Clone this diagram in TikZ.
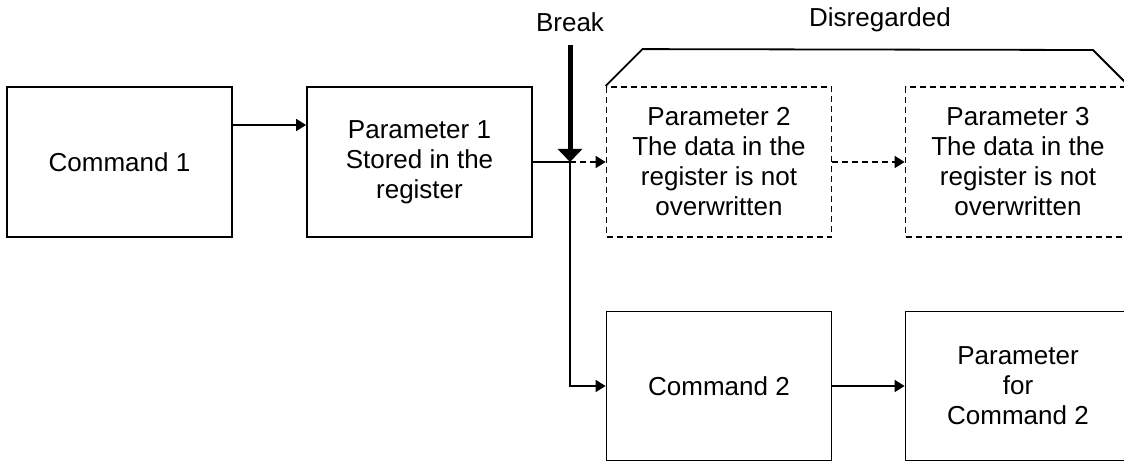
\documentclass[tikz,border=0pt]{standalone}
\usepackage{fontspec}
\setmainfont{Liberation Sans}
\usetikzlibrary{arrows.meta}
\tikzset{
  box/.style={draw, line width=1.8pt, minimum width=225pt, minimum height=150pt, align=center, inner sep=0pt, font=\fontsize{26}{30}\selectfont},
  dbox/.style={box, dash pattern=on 6pt off 4pt},
  arr/.style={line width=1.8pt, -{Triangle[length=10pt,width=12pt]}},
  darr/.style={arr, dash pattern=on 6pt off 4pt},
  lbl/.style={font=\fontsize{26}{30}\selectfont, inner sep=0pt},
}
\begin{document}
\begin{tikzpicture}[x=1pt,y=-1pt]
\useasboundingbox (0,0) rectangle (1124,462);
\clip (0,0) rectangle (1124,462);
\node[box] (c1) at (119.5,162) {Command 1};
\node[box] (p1) at (419.5,162) {Parameter 1\\Stored in the\\register};
\node[dbox] (p2) at (719,162) {Parameter 2\\The data in the\\register is not\\overwritten};
\node[dbox] (p3) at (1018,162) {Parameter 3\\The data in the\\register is not\\overwritten};
\node[box, minimum height=149pt] (c2) at (719,386) {Command 2};
\node[box, minimum height=149pt] (pc2) at (1018,386) {Parameter\\for\\Command 2};
\node[lbl] (brk) at (570,22) {Break};
\node[lbl] (dis) at (880,20) {Disregarded};
\coordinate (j) at (570,162);
\coordinate (bt) at (570,45);
\draw[arr] ([yshift=37pt]c1.east) -- ([yshift=37pt]p1.west);
\draw[line width=1.8pt] (p1.east) -- (j);
\draw[darr] (j) -- (p2.west);
\draw[darr] (p2.east) -- (p3.west);
\draw[arr] (j) |- (c2.west);
\draw[arr] (c2.east) -- (pc2.west);
\draw[line width=5pt, -{Triangle[length=13pt,width=24pt]}] (bt) -- (j);
\draw[line width=1.8pt] (p2.north west) -- ++(37,-37) -- (1093,50) -- ++(37,37);
\end{tikzpicture}
\end{document}
